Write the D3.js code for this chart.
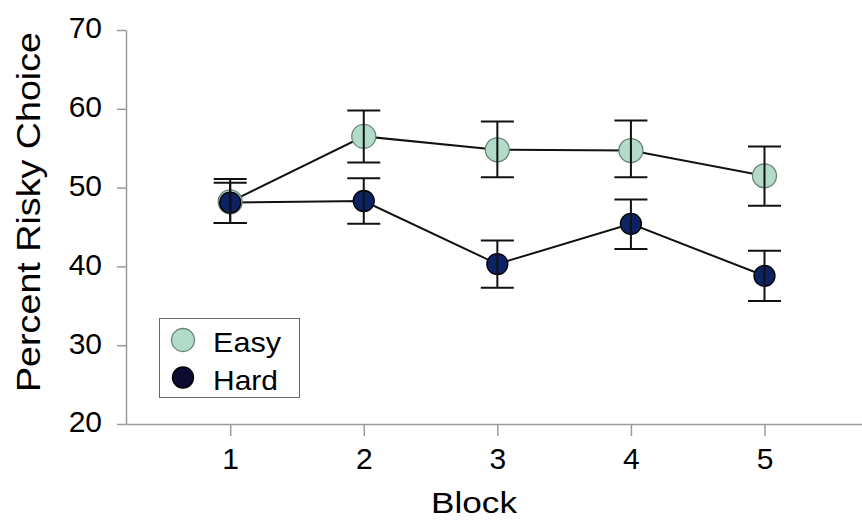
<!DOCTYPE html>
<html><head><meta charset="utf-8">
<script src="https://cdn.jsdelivr.net/npm/d3@7/dist/d3.min.js"></script>
<style>body{margin:0;background:#fff}svg{display:block}text{font-family:"Liberation Sans",Arial,sans-serif}</style>
</head><body><svg id="c" width="862" height="520"></svg>
<script>
const blocks = [1, 2, 3, 4, 5];
const easyMean = [48.2, 56.5, 54.8, 54.7, 51.5];
const easyLow  = [45.5, 53.2, 51.3, 51.3, 47.7];
const easyHigh = [51.1, 59.8, 58.4, 58.5, 55.2];
const hardMean = [48.1, 48.3, 40.3, 45.4, 38.8];
const hardLow  = [45.5, 45.4, 37.3, 42.2, 35.6];
const hardHigh = [50.6, 51.2, 43.3, 48.5, 42.0];
const yTicks = [20, 30, 40, 50, 60, 70];
const seriesNames = ["Easy", "Hard"];

const svg = d3.select("#c");
const x = d3.scaleLinear().domain([0.22, 5.73]).range([126, 862]);
const y = d3.scaleLinear().domain([20, 70]).range([424, 30]);

const axisColor = "#9a9a9a";
const yAxis = svg.append("g").attr("transform","translate(126,0)")
  .call(d3.axisLeft(y).tickValues(yTicks).tickFormat(d3.format("d")).tickSize(9).tickSizeOuter(0).tickPadding(15));
const xAxis = svg.append("g").attr("transform","translate(0,424)")
  .call(d3.axisBottom(x).tickValues(blocks).tickFormat(d3.format("d")).tickSize(12).tickSizeOuter(0).tickPadding(12));
[yAxis, xAxis].forEach(g => {
  g.attr("font-size", null).attr("font-family", null);
  g.select(".domain").attr("stroke", axisColor).attr("stroke-width", 1.5);
  g.selectAll(".tick line").attr("stroke", axisColor).attr("stroke-width", 1.5);
  g.selectAll(".tick text").attr("fill","#000").attr("font-size", 30);
});
yAxis.selectAll(".tick text").attr("dy", "0.26em");

svg.append("text").attr("x", 474).attr("y", 513).attr("text-anchor","middle")
  .attr("font-size", 30).attr("textLength", 86).attr("lengthAdjust","spacingAndGlyphs").text("Block");
svg.append("text").attr("transform","translate(40,212) rotate(-90)").attr("text-anchor","middle")
  .attr("font-size", 33).attr("textLength", 360).attr("lengthAdjust","spacingAndGlyphs").text("Percent Risky Choice");

const series = [
  {name: seriesNames[0], mean: easyMean, lo: easyLow, hi: easyHigh, fill: "#b2dcc9", stroke: "#6c8478", r: 12},
  {name: seriesNames[1], mean: hardMean, lo: hardLow, hi: hardHigh, fill: "#0b2263", stroke: "#000", r: 10.5}
];

const line = d3.line().x((d,i) => x(blocks[i])).y(d => y(d));
series.forEach(s => {
  svg.append("path").attr("d", line(s.mean)).attr("fill","none")
    .attr("stroke","#111").attr("stroke-width", 2);
});
series.forEach(s => {
  const g = svg.append("g");
  g.selectAll("circle").data(s.mean).join("circle")
    .attr("cx",(d,i)=>x(blocks[i])).attr("cy", d=>y(d)).attr("r", s.r)
    .attr("fill", s.fill).attr("stroke", s.stroke).attr("stroke-width", 1.3);
});
series.forEach(s => {
  const g = svg.append("g").attr("stroke","#111").attr("stroke-width",2);
  blocks.forEach((b,i) => {
    const cx = x(b);
    g.append("line").attr("x1",cx).attr("x2",cx).attr("y1",y(s.lo[i])).attr("y2",y(s.hi[i]));
    g.append("line").attr("x1",cx-16.5).attr("x2",cx+16.5).attr("y1",y(s.lo[i])).attr("y2",y(s.lo[i]));
    g.append("line").attr("x1",cx-16.5).attr("x2",cx+16.5).attr("y1",y(s.hi[i])).attr("y2",y(s.hi[i]));
  });
});

// legend
const lg = svg.append("g");
lg.append("rect").attr("x",159.5).attr("y",318.5).attr("width",140).attr("height",79)
  .attr("fill","#fff").attr("stroke","#666").attr("stroke-width",1);
const legFill = ["#b2dcc9", "#0e0b30"];
const legStroke = ["#6c8478", "#000"];
const legLen = [68, 65];
seriesNames.forEach((n,i) => {
  lg.append("circle").attr("cx",183).attr("cy",340+i*37.5).attr("r", i===0?11.5:10.5)
    .attr("fill",legFill[i]).attr("stroke",legStroke[i]).attr("stroke-width",1.3);
  lg.append("text").attr("x",213).attr("y",352+i*38).attr("font-size",28)
    .attr("textLength", legLen[i]).attr("lengthAdjust","spacingAndGlyphs").text(n);
});
</script></body></html>
